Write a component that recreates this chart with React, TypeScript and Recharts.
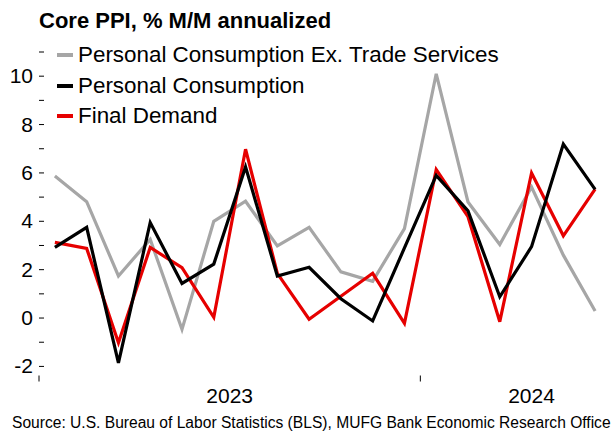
import React from "react";
import { LineChart, Line, XAxis, YAxis } from "recharts";

const months = [
  "2023-01", "2023-02", "2023-03", "2023-04", "2023-05", "2023-06",
  "2023-07", "2023-08", "2023-09", "2023-10", "2023-11", "2023-12",
  "2024-01", "2024-02", "2024-03", "2024-04", "2024-05", "2024-06",
];
const exTrade = [5.87, 4.81, 1.74, 3.25, -0.47, 4.0, 4.83, 2.98, 3.75, 1.91, 1.52, 3.7, 10.1, 4.8, 3.04, 5.42, 2.6, 0.29];
const personal = [2.92, 3.75, -1.85, 3.95, 1.43, 2.23, 6.25, 1.74, 2.1, 0.8, -0.12, 2.9, 5.9, 4.43, 0.88, 2.95, 7.19, 5.32];
const finalDemand = [3.13, 2.88, -1.02, 2.92, 2.08, 0.03, 6.98, 1.85, -0.05, 0.9, 1.85, -0.22, 6.14, 4.19, -0.15, 6.0, 3.4, 5.33];

const yTicks = [-2, -1, 0, 1, 2, 3, 4, 5, 6, 7, 8, 9, 10, 11];
const yearBoundaries = [-0.5, 11.5];
const yearLabels = [
  { pos: 5.5, label: "2023" },
  { pos: 15, label: "2024" },
];

const data = months.map((m, i) => ({
  idx: i,
  month: m,
  exTrade: exTrade[i],
  personal: personal[i],
  finalDemand: finalDemand[i],
}));

const FONT = "'Liberation Sans', Arial, sans-serif";

const legendItems = [
  { label: "Personal Consumption Ex. Trade Services", color: "#A6A6A6" },
  { label: "Personal Consumption", color: "#000000" },
  { label: "Final Demand", color: "#E60000" },
];

const YTick = (props: any) => {
  const { x, y, payload } = props;
  const v = payload.value;
  return (
    <g>
      <line x1={x} x2={x + 5} y1={y} y2={y} stroke="#000" strokeWidth={1} />
      {v % 2 === 0 ? (
        <text x={x - 6} y={y} dy={7} textAnchor="end" fontSize={21} fontFamily={FONT} fill="#000">
          {v}
        </text>
      ) : null}
    </g>
  );
};

const XTick = (props: any) => {
  const { x, y, payload } = props;
  const v = payload.value;
  const lab = yearLabels.find((l) => l.pos === v);
  if (lab) {
    return (
      <text x={x} y={y + 24} textAnchor="middle" fontSize={21} fontFamily={FONT} fill="#000">
        {lab.label}
      </text>
    );
  }
  return <line x1={x} x2={x} y1={y - 3} y2={y + 3} stroke="#000" strokeWidth={1} />;
};

export default function App() {
  return (
    <div style={{ position: "absolute", left: 0, top: 0, width: 612, height: 434, background: "#fff" }}>
      <LineChart width={612} height={434} data={data} margin={{ top: 52, right: 1, bottom: 25.5, left: 0 }}>
        <XAxis
          dataKey="idx"
          type="number"
          height={30}
          domain={[-0.5, 17.5]}
          ticks={[...yearBoundaries, ...yearLabels.map((l) => l.pos)]}
          axisLine={false}
          tickLine={false}
          tick={<XTick />}
          tickSize={0}
          tickMargin={0}
          interval={0}
          allowDecimals
        />
        <YAxis
          width={39}
          domain={[-2.5, 11]}
          ticks={yTicks}
          axisLine={false}
          tickLine={false}
          tick={<YTick />}
          tickSize={0}
          tickMargin={0}
          interval={0}
          allowDataOverflow
        />
        <Line dataKey="exTrade" stroke="#A6A6A6" strokeWidth={3.2} dot={false} isAnimationActive={false} strokeLinejoin="miter" />
        <Line dataKey="finalDemand" stroke="#E60000" strokeWidth={3.2} dot={false} isAnimationActive={false} strokeLinejoin="miter" />
        <Line dataKey="personal" stroke="#000000" strokeWidth={3.2} dot={false} isAnimationActive={false} strokeLinejoin="miter" />
      </LineChart>
      <div style={{ position: "absolute", left: 39, top: 8, fontFamily: FONT, fontWeight: "bold", fontSize: 22, whiteSpace: "nowrap" }}>
        Core PPI, % M/M annualized
      </div>
      <div style={{ position: "absolute", left: 57, top: 40, fontFamily: FONT, fontSize: 22.4, lineHeight: "30.5px" }}>
        {legendItems.map((it) => (
          <div key={it.label} style={{ display: "flex", alignItems: "center", whiteSpace: "nowrap" }}>
            <span style={{ display: "inline-block", width: 16, height: 4, background: it.color, marginRight: 5 }} />
            <span>{it.label}</span>
          </div>
        ))}
      </div>
      <div style={{ position: "absolute", left: 12, top: 414, fontFamily: FONT, fontSize: 15.6, whiteSpace: "nowrap" }}>
        Source: U.S. Bureau of Labor Statistics (BLS), MUFG Bank Economic Research Office
      </div>
    </div>
  );
}
